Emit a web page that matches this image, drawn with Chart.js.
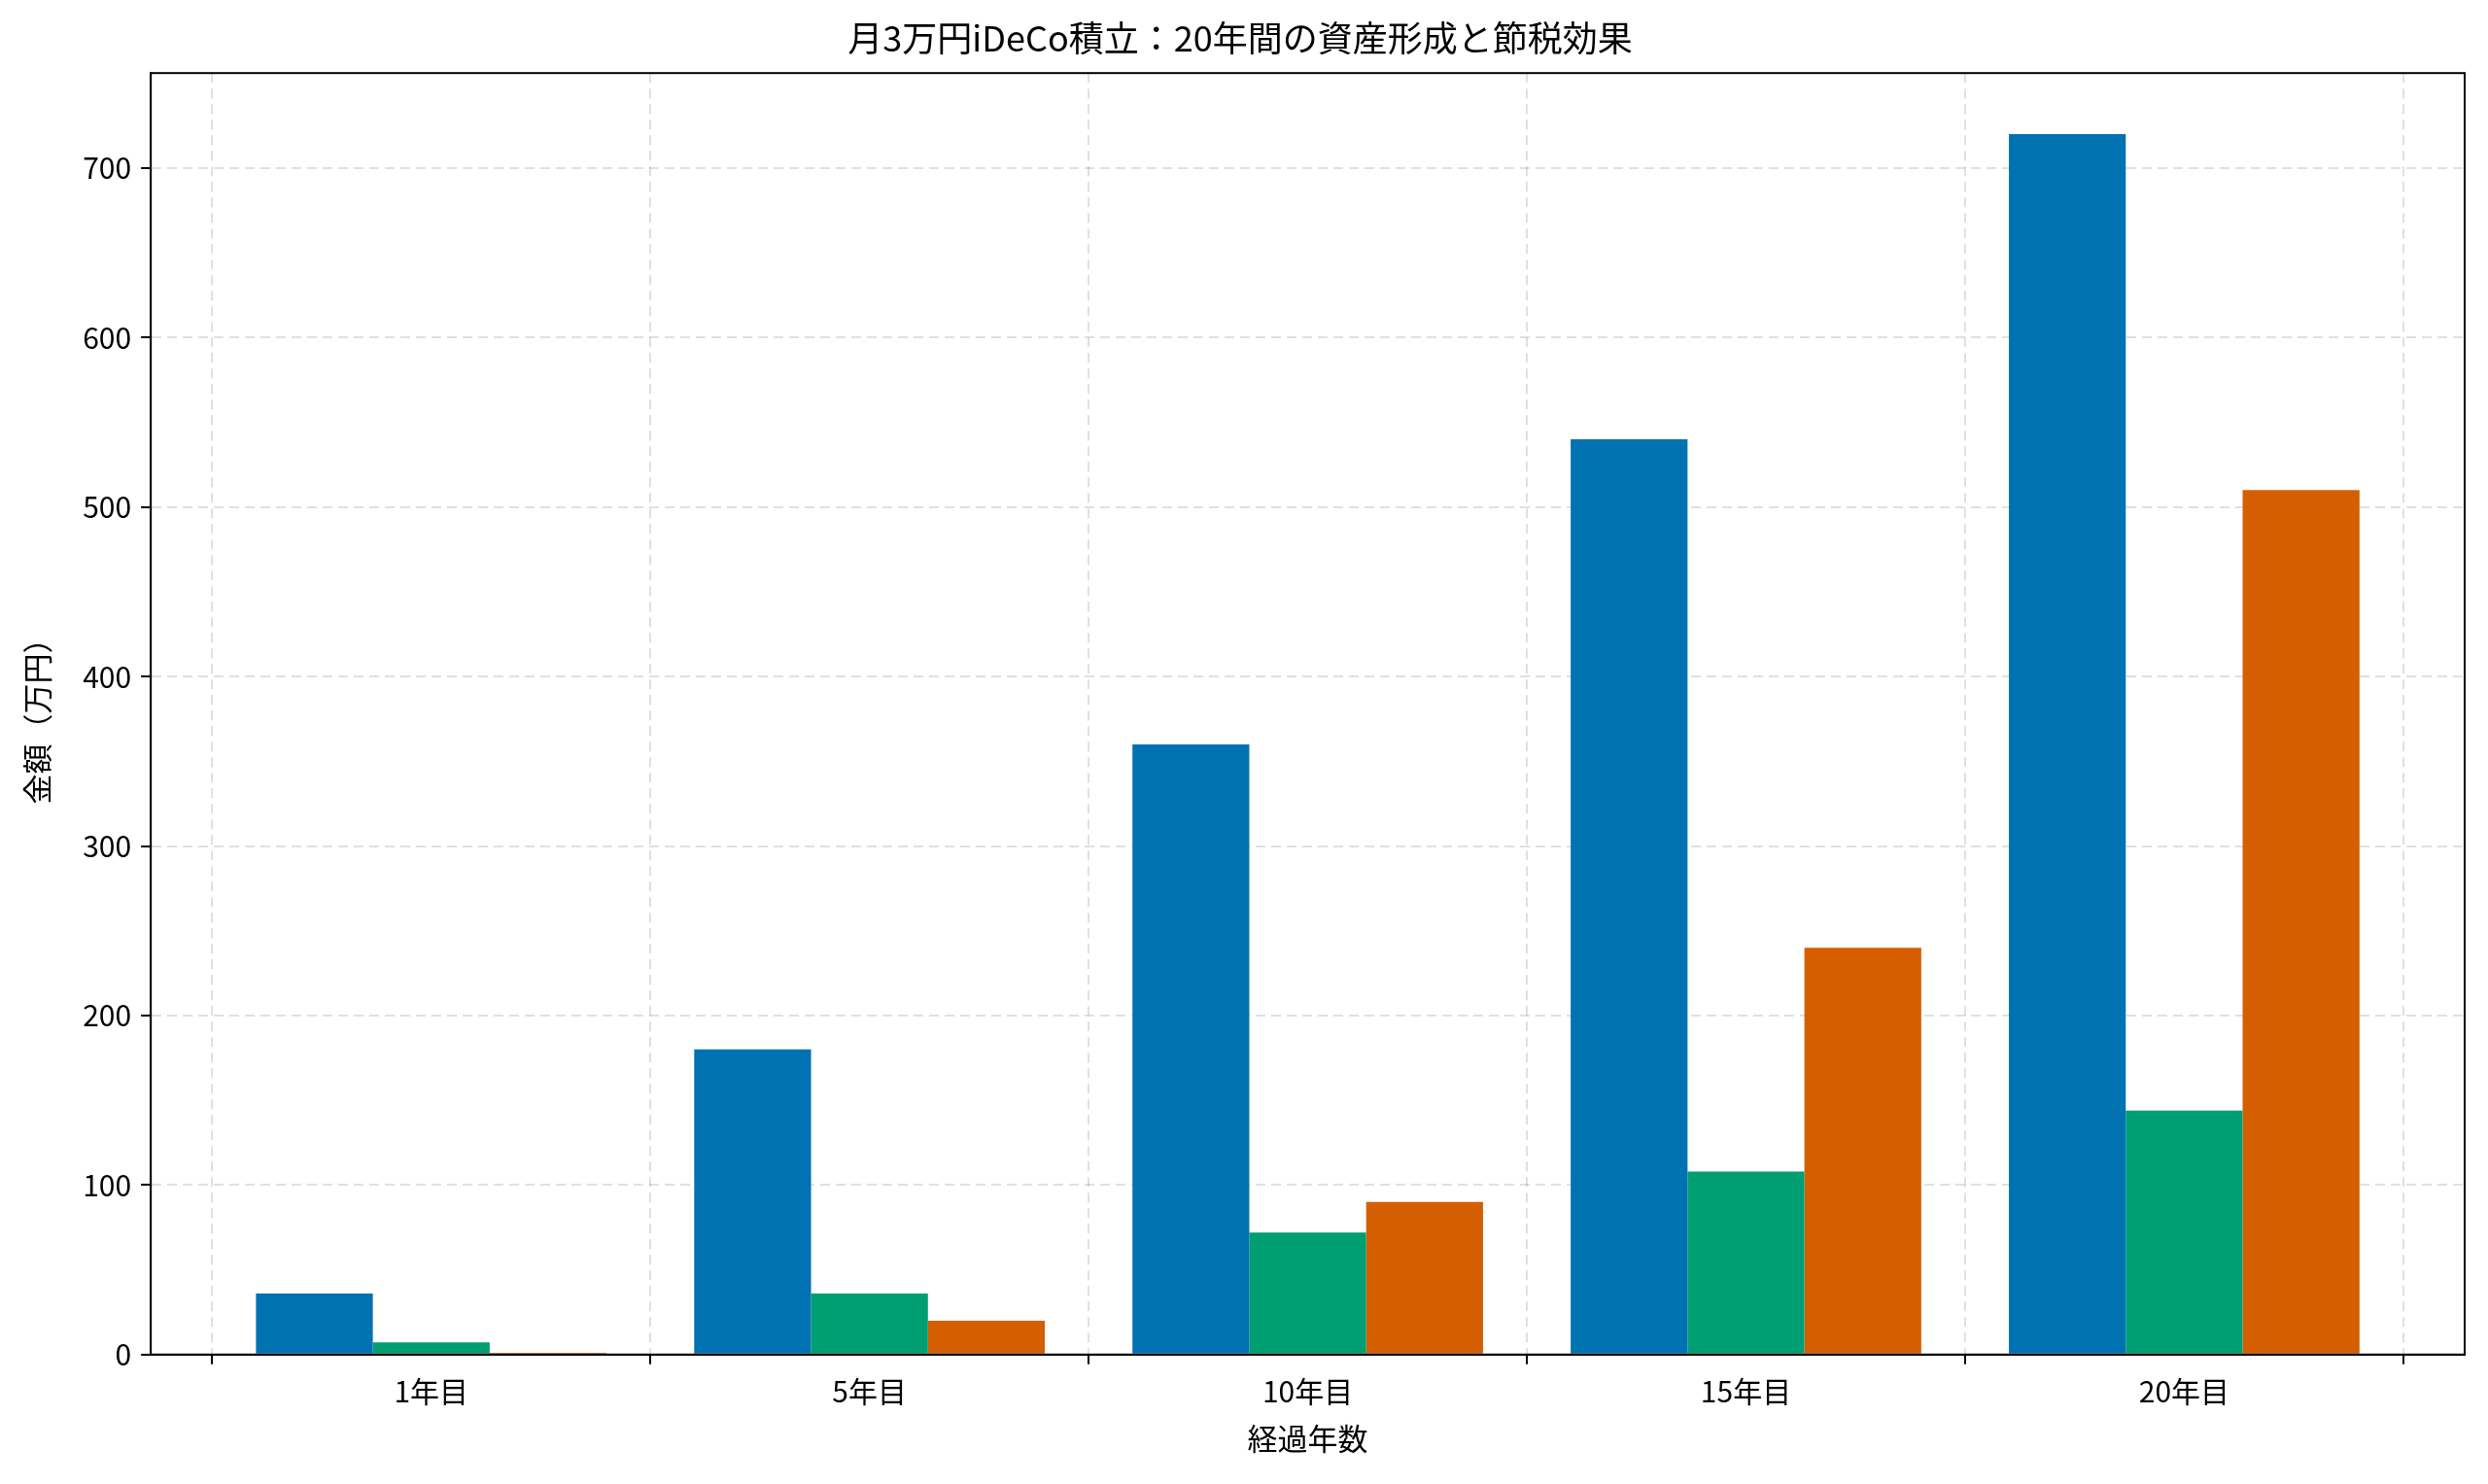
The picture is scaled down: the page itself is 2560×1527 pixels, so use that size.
<!DOCTYPE html>
<html>
<head>
<meta charset="utf-8">
<script src="https://cdn.jsdelivr.net/npm/chart.js@4"></script>
<style>
  html, body { margin: 0; padding: 0; background: #fff; }
  #wrap { width: 2560px; height: 1527px; }
</style>
</head>
<body>
<div id="wrap"><canvas id="chart"></canvas></div>
<script>
var categories = ["1年目", "5年目", "10年目", "15年目", "20年目"];
var contributions = [36, 180, 360, 540, 720];
var taxSavings = [7.2, 36, 72, 108, 144];
var investmentGains = [1, 20, 90, 240, 510];
var yTicks = [0, 100, 200, 300, 400, 500, 600, 700];

function toPoints(values) {
    return values.map(function(v, i) { return { x: i, y: v }; });
}

var font = "'Noto Sans CJK JP', 'Noto Sans', sans-serif";

var ctx = document.getElementById("chart");
var chart = new Chart(ctx, {
    type: 'bar',
    data: {
        datasets: [
            { label: "積立元本", data: toPoints(contributions), backgroundColor: "#0072B2" },
            { label: "節税額", data: toPoints(taxSavings), backgroundColor: "#009E73" },
            { label: "運用益", data: toPoints(investmentGains), backgroundColor: "#D55E00" }
        ]
    },
    options: {
        responsive: true,
        maintainAspectRatio: false,
        devicePixelRatio: 1,
        animation: false,
        layout: { padding: { left: 16, right: 24, top: 6, bottom: 24 } },
        datasets: { bar: { categoryPercentage: 0.8, barPercentage: 1.0 } },
        plugins: {
            legend: { display: false },
            tooltip: { enabled: false },
            title: {
                display: true,
                text: "月3万円iDeCo積立：20年間の資産形成と節税効果",
                color: "#000",
                font: { family: font, size: 36, weight: 'normal' },
                padding: { top: 12, bottom: 14 }
            }
        },
        scales: {
            x: {
                type: 'linear',
                offset: false,
                min: -0.64,
                max: 4.64,
                afterBuildTicks: function(axis) {
                    axis.ticks = categories.map(function(c, i) { return { value: i }; });
                },
                ticks: {
                    color: "#000",
                    font: { family: font, size: 30 },
                    padding: 10,
                    autoSkip: false,
                    maxRotation: 0,
                    callback: function(v) { return categories[Math.round(v)]; }
                },
                grid: { color: "rgba(0,0,0,0.12)", tickColor: "#000", tickLength: 10, lineWidth: 2 },
                border: { color: "#000", width: 2, dash: [10, 6] },
                title: { display: true, text: "経過年数", color: "#000", font: { family: font, size: 31 }, padding: { top: 2 } }
            },
            y: {
                min: 0,
                max: 756,
                afterBuildTicks: function(axis) {
                    axis.ticks = yTicks.map(function(v) { return { value: v }; });
                },
                ticks: { color: "#000", font: { family: font, size: 30 }, padding: 10 },
                grid: { color: "rgba(0,0,0,0.12)", tickColor: "#000", tickLength: 10, lineWidth: 2 },
                border: { color: "#000", width: 2, dash: [10, 6] },
                title: { display: true, text: "金額（万円）", color: "#000", font: { family: font, size: 31 }, padding: { bottom: 18 } }
            }
        }
    },
    plugins: [{
        id: 'frame',
        afterDraw: function(c) {
            var a = c.chartArea, g = c.ctx;
            g.save();
            g.strokeStyle = "#000";
            g.lineWidth = 2;
            g.strokeRect(a.left, a.top, a.right - a.left, a.bottom - a.top);
            g.restore();
        }
    }]
});
</script>
</body>
</html>
